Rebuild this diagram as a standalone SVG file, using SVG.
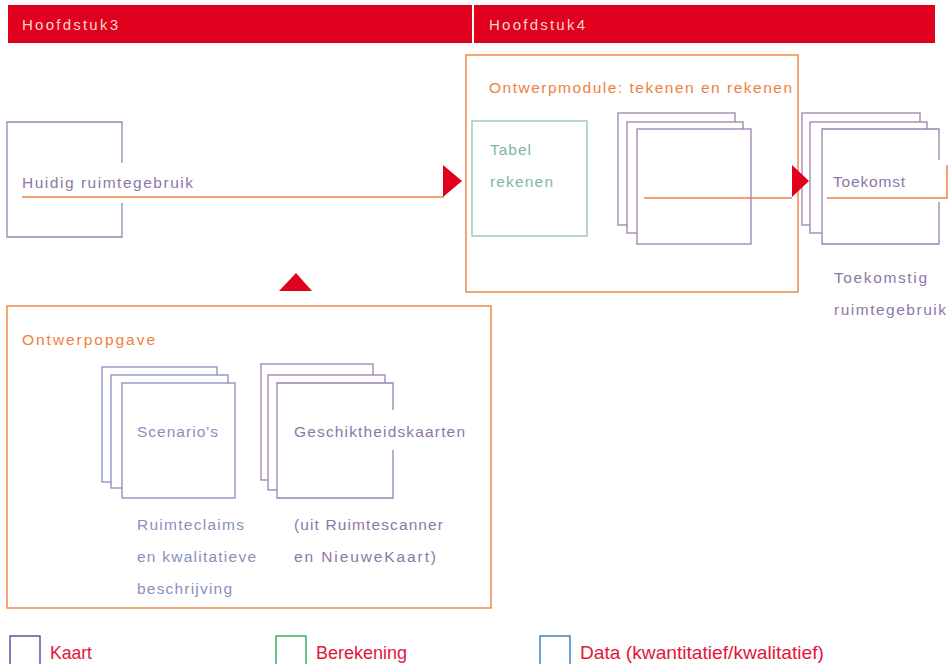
<svg xmlns="http://www.w3.org/2000/svg" width="949" height="664" viewBox="0 0 949 664">
<style>
text{font-family:"Liberation Sans","DejaVu Sans",sans-serif;font-size:15.5px}
.hdr{fill:#e2001f}
.hdrt{fill:#f7d6cc;font-size:15px}
.or{fill:none;stroke:#f08040;stroke-width:1.4}
.pu{fill:#fff;stroke:#9a82b0;stroke-width:1.3}
.pun{fill:none;stroke:#9a82b0;stroke-width:1.3}
.bl{fill:#fff;stroke:#858bc0;stroke-width:1.3}
.gr{fill:#fff;stroke:#8cc4ae;stroke-width:1.3}
.wf{fill:#fff;stroke:none}
.tpu{fill:#8c78a6}
.tbl{fill:#8a8fbc}
.tgr{fill:#7fb7a0}
.tor{fill:#f08040}
.arr{fill:#e2001f}
.ln{fill:none;stroke:#f08040;stroke-width:1.5}
.leg{font-size:19px;fill:#e2163a}
</style>

<g id="header3"><rect class="hdr" x="8" y="5" width="464" height="38"/><text class="hdrt" x="22" y="30" textLength="96" lengthAdjust="spacing">Hoofdstuk3</text></g>
<g id="header4"><rect class="hdr" x="474" y="5" width="461" height="38"/><text class="hdrt" x="489" y="30" textLength="96" lengthAdjust="spacing">Hoofdstuk4</text></g>

<g id="huidig">
<path class="pun" d="M122,163 V122 H7 V237 H122 V203"/>
<text class="tpu" x="22" y="188" textLength="171" lengthAdjust="spacing">Huidig ruimtegebruik</text>
</g>

<g id="ontwerpmodule">
<rect class="or" x="466" y="55" width="332" height="237"/>
<text class="tor" x="489" y="93" textLength="303" lengthAdjust="spacing">Ontwerpmodule: tekenen en rekenen</text>
</g>

<g id="tabel">
<rect class="gr" x="472" y="121" width="115" height="115"/>
<text class="tgr" x="490" y="155" textLength="41" lengthAdjust="spacing">Tabel</text>
<text class="tgr" x="490" y="187" textLength="63" lengthAdjust="spacing">rekenen</text>
</g>

<g id="kaarten-module">
<rect class="pu" x="618" y="113" width="117" height="112"/>
<rect class="pu" x="627" y="122" width="116" height="111"/>
<rect class="pu" x="637" y="129" width="114" height="115"/>
</g>

<g id="toekomst">
<rect class="pu" x="802" y="113" width="118" height="112"/>
<rect class="pu" x="810" y="122" width="117" height="111"/>
<rect class="wf" x="822" y="129" width="117" height="115"/>
<path class="pun" d="M939,160 V129 H822 V244 H939 V202"/>
<text class="tpu" x="833" y="187" textLength="72" lengthAdjust="spacing">Toekomst</text>
</g>

<g id="toekomstig-label">
<text class="tpu" x="834" y="283" textLength="93" lengthAdjust="spacing">Toekomstig</text>
<text class="tpu" x="834" y="315" textLength="112" lengthAdjust="spacing">ruimtegebruik</text>
</g>

<g id="ontwerpopgave">
<rect class="or" x="7" y="306" width="484" height="302"/>
<text class="tor" x="22" y="345" textLength="133" lengthAdjust="spacing">Ontwerpopgave</text>
</g>

<g id="scenarios">
<rect class="bl" x="102" y="367" width="115" height="115"/>
<rect class="bl" x="111" y="375" width="117" height="113"/>
<rect class="bl" x="122" y="383" width="113" height="115"/>
<text class="tbl" x="137" y="437" textLength="81" lengthAdjust="spacing">Scenario's</text>
<text class="tbl" x="137" y="530" textLength="107" lengthAdjust="spacing">Ruimteclaims</text>
<text class="tbl" x="137" y="562" textLength="119" lengthAdjust="spacing">en kwalitatieve</text>
<text class="tbl" x="137" y="594" textLength="95" lengthAdjust="spacing">beschrijving</text>
</g>

<g id="geschiktheidskaarten">
<rect class="pu" x="261" y="364" width="112" height="116"/>
<rect class="pu" x="268" y="375" width="117" height="115"/>
<rect class="wf" x="277" y="383" width="116" height="115"/>
<path class="pun" d="M393,410 V383 H277 V498 H393 V450"/>
<text class="tpu" x="294" y="437" textLength="171" lengthAdjust="spacing">Geschiktheidskaarten</text>
<text class="tpu" x="294" y="530" textLength="149" lengthAdjust="spacing">(uit Ruimtescanner</text>
<text class="tpu" x="294" y="562" textLength="142" lengthAdjust="spacing">en NieuweKaart)</text>
</g>

<g id="connectors">
<polyline class="ln" points="22,197 444,197"/>
<polygon class="arr" points="443,165 462,181 443,197"/>
<polyline class="ln" points="644,198 792,198"/>
<polygon class="arr" points="792,165 809,181 792,197"/>
<polyline class="ln" points="827,198 947,198 947,165"/>
<polygon class="arr" points="279,291 296,273 312,291"/>
</g>

<g id="legend">
<rect x="10" y="636" width="30" height="30" fill="none" stroke="#5b2f8f" stroke-width="1.3"/>
<text class="leg" x="50" y="659" textLength="42" lengthAdjust="spacingAndGlyphs">Kaart</text>
<rect x="276" y="636" width="30" height="30" fill="none" stroke="#1aa64a" stroke-width="1.3"/>
<text class="leg" x="316" y="659" textLength="91" lengthAdjust="spacingAndGlyphs">Berekening</text>
<rect x="540" y="636" width="30" height="30" fill="none" stroke="#1f6fb5" stroke-width="1.3"/>
<text class="leg" x="580" y="659" textLength="244" lengthAdjust="spacingAndGlyphs">Data (kwantitatief/kwalitatief)</text>
</g>
</svg>
